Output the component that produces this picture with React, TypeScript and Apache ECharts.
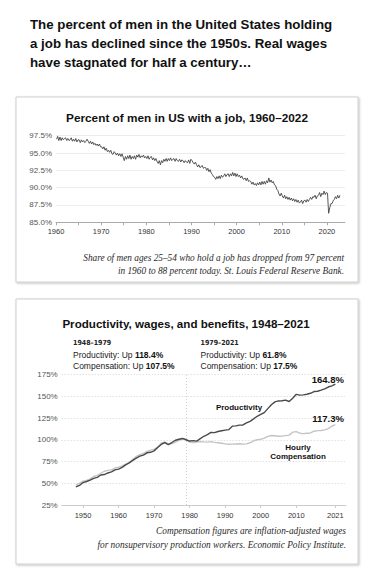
import React, { useEffect, useRef } from "react";
import * as echarts from "echarts";

// ---------- data ----------
const TITLE_LINES = [
  "The percent of men in the United States holding",
  "a job has declined since the 1950s. Real wages",
  "have stagnated for half a century…",
];

const TOP_TITLE = "Percent of men in US with a job, 1960–2022";
const TOP_NOTE = [
  "Share of men ages 25–54 who hold a job has dropped from 97 percent",
  "in 1960 to 88 percent today. St. Louis Federal Reserve Bank.",
];
const TOP_START_YEAR = 1960;
// quarterly employment ratio (%) per year, 1960–2022
const TOP_QUARTERS: number[][] = [
  [97.0, 97.4, 96.8, 97.3], [96.8, 97.2, 96.9, 97.1], [97.2, 96.8, 97.1, 96.8], [96.9, 97.2, 96.7, 97.0],
  [96.7, 97.1, 96.6, 96.9], [96.9, 96.5, 96.9, 96.6], [96.8, 96.5, 96.7, 97.0], [96.7, 96.4, 96.7, 96.3],
  [96.6, 96.2, 96.4, 96.1], [96.3, 96.0, 96.3, 95.9], [95.9, 95.6, 95.9, 95.4], [95.7, 95.2, 95.4, 95.1],
  [95.4, 94.9, 94.8, 95.2], [95.0, 94.7, 95.0, 94.6], [94.9, 94.5, 94.9, 94.4], [93.9, 94.5, 94.1, 94.6],
  [94.2, 94.7, 94.1, 94.5], [94.2, 94.6, 94.1, 94.7], [94.4, 94.8, 94.3, 94.6], [94.4, 94.7, 94.3, 94.5],
  [94.2, 94.6, 94.1, 94.4], [94.5, 94.0, 94.3, 93.9], [94.2, 93.8, 93.5, 93.9], [93.3, 93.9, 93.6, 94.1],
  [93.8, 94.2, 93.8, 94.2], [93.9, 94.3, 93.9, 94.1], [94.2, 93.8, 94.2, 93.9], [93.8, 94.1, 93.7, 94.0],
  [93.9, 93.6, 93.9, 93.7], [93.6, 94.0, 93.5, 94.1], [93.9, 93.6, 93.4, 93.7], [93.3, 93.0, 93.3, 92.9],
  [93.0, 93.2, 92.8, 92.9], [92.9, 92.5, 92.8, 92.3], [92.6, 92.1, 91.9, 91.6], [91.5, 91.2, 91.6, 91.3],
  [91.7, 91.3, 91.8, 91.5], [91.7, 92.0, 91.6, 91.9], [92.0, 91.6, 92.0, 91.7], [92.2, 91.7, 92.1, 91.6],
  [92.0, 91.6, 91.8, 91.4], [91.7, 91.3, 91.2, 91.4], [91.0, 91.4, 90.9, 91.0], [90.9, 90.5, 90.8, 90.4],
  [90.6, 90.3, 90.7, 90.4], [90.8, 90.4, 90.9, 90.5], [90.9, 90.5, 91.0, 90.7], [91.4, 90.8, 91.1, 90.7],
  [90.9, 90.4, 90.3, 89.8], [89.6, 89.1, 88.8, 89.2], [88.8, 88.5, 88.9, 88.4], [88.7, 88.3, 88.6, 88.2],
  [88.5, 88.1, 88.4, 88.0], [88.3, 87.9, 88.2, 87.8], [87.9, 88.2, 87.7, 88.1], [88.2, 87.9, 88.3, 88.0],
  [88.3, 88.6, 88.3, 88.7], [88.6, 88.9, 88.4, 88.8], [88.9, 89.3, 88.7, 89.2], [89.0, 89.5, 89.0, 89.3],
  [89.2, 86.3, 87.1, 87.7], [87.7, 88.1, 88.3, 88.7], [88.4, 88.9, 88.5, 88.9],
];
const TOP_X_LABELS = [1960, 1970, 1980, 1990, 2000, 2010, 2020];
const TOP_X_TICKS = [1960, 1965, 1970, 1975, 1980, 1985, 1990, 1995, 2000, 2005, 2010, 2015, 2020];

const BOT_TITLE = "Productivity, wages, and benefits, 1948–2021";
const BOT_NOTE = [
  "Compensation figures are inflation-adjusted wages",
  "for nonsupervisory production workers. Economic Policy Institute.",
];
const PERIODS = [
  { head: "1948–1979", prod: "118.4%", comp: "107.5%" },
  { head: "1979–2021", prod: "61.8%", comp: "17.5%" },
];
const BOT_START_YEAR = 1948;
const PRODUCTIVITY = [
  45.8, 47.5, 50.8, 52.0, 53.5, 55.6, 56.8, 59.5, 60.0, 61.8, 63.0, 65.3, 66.2, 68.3, 71.2, 73.4,
  76.3, 78.9, 81.2, 82.3, 85.0, 85.6, 87.2, 91.0, 94.6, 96.8, 94.3, 96.8, 99.4, 100.6, 101.5, 100.0,
  98.5, 99.0, 98.4, 101.3, 104.0, 105.8, 108.5, 108.2, 109.5, 110.3, 111.0, 111.6, 115.6, 116.0,
  116.8, 117.0, 119.4, 121.2, 124.0, 127.0, 129.1, 131.2, 135.8, 140.3, 143.5, 144.6, 144.8, 145.5,
  144.0, 147.8, 152.2, 151.3, 151.6, 152.3, 153.4, 155.4, 155.7, 157.0, 158.5, 160.6, 162.0, 164.0,
];
const COMPENSATION = [
  48.2, 49.8, 52.5, 53.2, 55.0, 57.8, 59.0, 61.5, 63.8, 64.8, 65.4, 67.5, 68.6, 70.0, 72.0, 73.6,
  77.5, 81.0, 82.8, 84.2, 86.6, 88.0, 88.9, 91.5, 96.0, 97.6, 95.0, 95.5, 97.4, 99.2, 100.8, 100.0,
  97.3, 96.9, 97.4, 97.8, 97.5, 97.3, 97.8, 97.0, 96.5, 96.0, 95.3, 94.8, 95.0, 95.2, 95.4, 95.0,
  95.3, 96.5, 98.8, 100.0, 100.6, 101.8, 103.8, 104.9, 104.6, 104.0, 104.2, 104.8, 105.3, 108.7,
  109.3, 107.5, 107.0, 107.5, 107.8, 109.8, 110.5, 110.7, 111.3, 112.8, 115.5, 117.3,
];
const END_LABELS = ["164.8%", "117.3%"];
const DIVIDER_YEAR = 1979;
const BOT_X_LABELS = [1950, 1960, 1970, 1980, 1990, 2000, 2010, 2021];

const SANS = "'Liberation Sans', Arial, Helvetica, sans-serif";
const SERIF = "'Liberation Serif', 'Times New Roman', serif";

export default function App() {
  const ref = useRef<HTMLDivElement>(null);
  useEffect(() => {
    if (!ref.current) return;
    const chart = echarts.init(ref.current, undefined, { renderer: "svg" });

    const topData = TOP_QUARTERS.flatMap((row, i) =>
      row.map((v, q) => [TOP_START_YEAR + i + (q + 0.5) / 4, v])
    );
    const prodData = PRODUCTIVITY.map((v, i) => [BOT_START_YEAR + i, v]);
    const compData = COMPENSATION.map((v, i) => [BOT_START_YEAR + i, v]);

    const box = (y: number, h: number) => ({
      type: "rect",
      z: -10,
      shape: { x: 16, y, width: 342, height: h },
      style: {
        fill: "#fff",
        stroke: "#cfcfcf",
        lineWidth: 1,
        shadowBlur: 2,
        shadowOffsetX: 1,
        shadowOffsetY: 1,
        shadowColor: "rgba(0,0,0,0.25)",
      },
    });

    const txt = (
      x: number,
      y: number,
      text: string,
      extra: Record<string, unknown> = {}
    ) => ({
      type: "text",
      x,
      y,
      z: 10,
      style: {
        text,
        fontFamily: SANS,
        fontSize: 9,
        fill: "#222",
        verticalAlign: "middle",
        align: "left",
        ...extra,
      },
    });

    const note = (x: number, y: number, t: string) =>
      txt(x, y, t, {
        fontFamily: SERIF,
        fontStyle: "italic",
        fontSize: 9.3,
        fill: "#2a2a2a",
        align: "right",
      });

    const graphics: any[] = [
      box(97, 185),
      box(299, 265),
      ...TITLE_LINES.map((t, i) =>
        txt(30, 24.5 + i * 18.8, t, { fontSize: 13.3, fontWeight: "bold", fill: "#111" })
      ),
      txt(187, 118, TOP_TITLE, { fontSize: 11.8, fontWeight: "bold", fill: "#111", align: "center" }),
      ...TOP_NOTE.map((t, i) => note(344, 258 + i * 13, t)),
      txt(186, 323, BOT_TITLE, { fontSize: 11.6, fontWeight: "bold", fill: "#111", align: "center" }),
      ...BOT_NOTE.map((t, i) => note(346, 531 + i * 14, t)),
      ...PERIODS.flatMap((p, i) => {
        const x = i === 0 ? 73 : 200.5;
        return [
          txt(x, 343, p.head, {
            fontFamily: "'DejaVu Sans Condensed', sans-serif",
            fontWeight: "bold",
            fontSize: 7,
            fill: "#222",
          }),
          txt(x, 355, `Productivity: Up {b|${p.prod}}`, {
            fontSize: 8.5,
            fill: "#222",
            rich: { b: { fontFamily: SANS, fontSize: 8.5, fontWeight: "bold", fill: "#111" } },
          }),
          txt(x, 366, `Compensation: Up {b|${p.comp}}`, {
            fontSize: 8.5,
            fill: "#222",
            rich: { b: { fontFamily: SANS, fontSize: 8.5, fontWeight: "bold", fill: "#111" } },
          }),
        ];
      }),
      txt(344, 379.5, END_LABELS[0], { fontSize: 9.5, fontWeight: "bold", fill: "#111", align: "right" }),
      txt(344, 418, END_LABELS[1], { fontSize: 9.5, fontWeight: "bold", fill: "#111", align: "right" }),
      txt(239, 407.5, "Productivity", { fontSize: 8, fontWeight: "bold", fill: "#111", align: "center" }),
      txt(298, 447, "Hourly", { fontSize: 8, fontWeight: "bold", fill: "#111", align: "center" }),
      txt(298, 456.5, "Compensation", { fontSize: 8, fontWeight: "bold", fill: "#111", align: "center" }),
    ];

    const option: any = {
      animation: false,
      backgroundColor: "#fff",
      grid: [
        { left: 56, top: 135.7, width: 289, height: 86.6, containLabel: false },
        { left: 61.7, top: 374.5, width: 284.3, height: 130.5, containLabel: false },
      ],
      xAxis: [
        {
          type: "value",
          gridIndex: 0,
          min: 1960,
          max: 2024,
          interval: 10,
          splitLine: { show: false },
          axisLine: { show: true, lineStyle: { color: "#aaa", width: 1 } },
          axisTick: { show: true, length: 3, lineStyle: { color: "#aaa" }, customValues: TOP_X_TICKS },
          axisLabel: {
            customValues: TOP_X_LABELS,
            fontFamily: SANS,
            fontSize: 7.5,
            color: "#333",
            margin: 5,
            formatter: (v: number) => String(v),
          },
        },
        {
          type: "value",
          gridIndex: 1,
          min: 1944,
          max: 2024,
          interval: 10,
          splitLine: { show: false },
          axisLine: { show: true, lineStyle: { color: "#ccc", width: 1 } },
          axisTick: { show: true, length: 3, lineStyle: { color: "#ccc" }, customValues: BOT_X_LABELS },
          axisLabel: {
            customValues: BOT_X_LABELS,
            fontFamily: SANS,
            fontSize: 7.5,
            color: "#333",
            margin: 6,
            formatter: (v: number) => String(v),
          },
        },
      ],
      yAxis: [
        {
          type: "value",
          gridIndex: 0,
          min: 85,
          max: 97.5,
          interval: 2.5,
          axisLine: { show: false },
          axisTick: { show: false },
          splitLine: { show: true, lineStyle: { color: "#ececec", width: 1 } },
          axisLabel: {
            fontFamily: SANS,
            fontSize: 8,
            color: "#555",
            margin: 4,
            formatter: (v: number) => v.toFixed(1) + "%",
          },
        },
        {
          type: "value",
          gridIndex: 1,
          min: 25,
          max: 175,
          interval: 25,
          axisLine: { show: false },
          axisTick: { show: false },
          splitLine: { show: true, lineStyle: { color: "#d4d4d4", width: 1, type: [1, 2] } },
          axisLabel: {
            fontFamily: SANS,
            fontSize: 8,
            color: "#555",
            margin: 4,
            formatter: (v: number) => v + "%",
          },
        },
      ],
      series: [
        {
          type: "line",
          xAxisIndex: 0,
          yAxisIndex: 0,
          data: topData,
          showSymbol: false,
          symbol: "none",
          lineStyle: { color: "#444", width: 0.9 },
        },
        {
          type: "line",
          name: "Hourly Compensation",
          xAxisIndex: 1,
          yAxisIndex: 1,
          data: compData,
          symbol: "none",
          lineStyle: { color: "#c4c4c4", width: 1.4 },
          markLine: {
            silent: true,
            symbol: "none",
            label: { show: false },
            lineStyle: { color: "#cfcfcf", width: 1, type: [1, 2] },
            data: [{ xAxis: DIVIDER_YEAR }],
          },
        },
        {
          type: "line",
          name: "Productivity",
          xAxisIndex: 1,
          yAxisIndex: 1,
          data: prodData,
          symbol: "none",
          lineStyle: { color: "#4a4a4a", width: 1.4 },
        },
      ],
      graphic: graphics,
    };

    chart.setOption(option);
    return () => chart.dispose();
  }, []);

  return (
    <div
      ref={ref}
      style={{ position: "absolute", left: 0, top: 0, width: 375, height: 576, background: "#fff" }}
    />
  );
}
